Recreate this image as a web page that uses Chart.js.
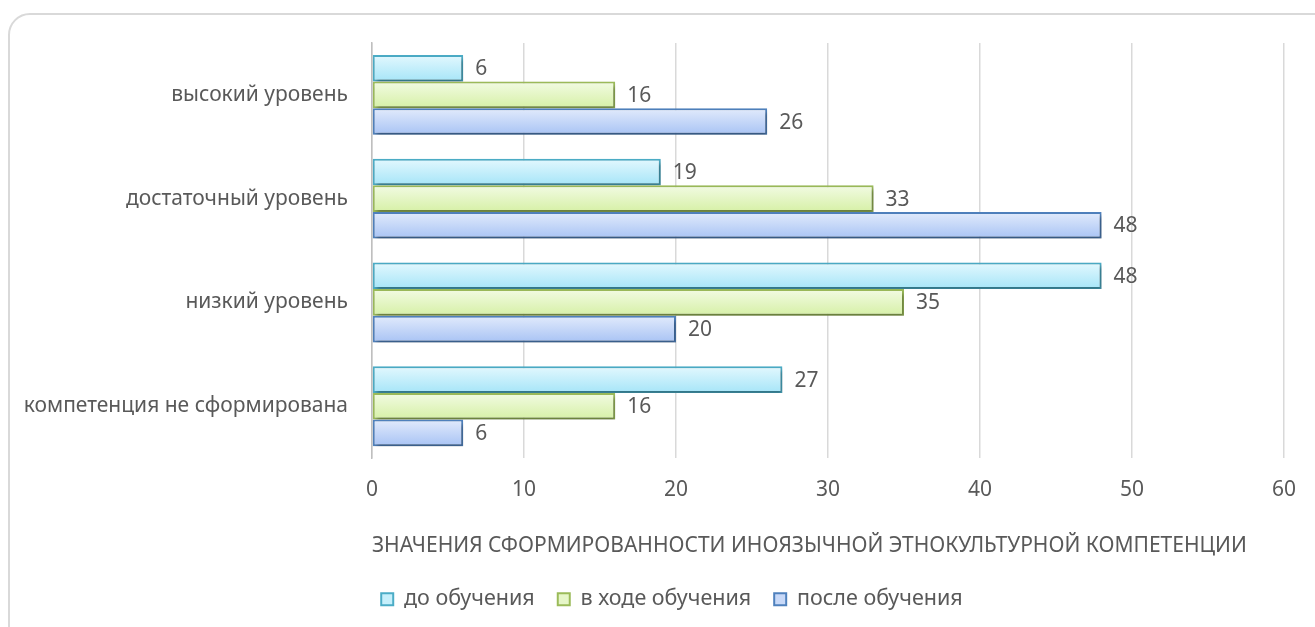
<!DOCTYPE html>
<html>
<head>
<meta charset="utf-8">
<script src="https://cdn.jsdelivr.net/npm/chart.js@4"></script>
<style>
  body { margin: 0; background: #fff; }
  #wrap { position: relative; width: 1315px; height: 627px; overflow: hidden; }
  #frame { position: absolute; left: 8px; top: 13px; width: 1330px; height: 640px;
           border: 2px solid #d9d9d9; border-radius: 22px; box-sizing: border-box; }
  canvas { position: absolute; left: 0; top: 0; }
</style>
</head>
<body>
<div id="wrap">
  <div id="frame"></div>
  <canvas id="chart" width="1315" height="627"></canvas>
</div>
<script>
// данные
const categories = ['высокий уровень', 'достаточный уровень', 'низкий уровень', 'компетенция не сформирована'];
const before = [6, 19, 48, 27];
const during = [16, 33, 35, 16];
const after = [26, 48, 20, 6];
const xTicks = [0, 10, 20, 30, 40, 50, 60];
const axisTitle = 'ЗНАЧЕНИЯ СФОРМИРОВАННОСТИ ИНОЯЗЫЧНОЙ ЭТНОКУЛЬТУРНОЙ КОМПЕТЕНЦИИ';

const FONT = "'Noto Sans', sans-serif";
const GRAY = '#595959';
const CAT_PCT = 0.77;

// градиент сверху вниз для каждого бара
function barGradient(top, bottom) {
  return ctx => {
    const chart = ctx.chart;
    const ys = chart.scales.y;
    if (!ys || ctx.dataIndex === undefined || !chart.chartArea) return bottom;
    const band = ys.height / categories.length;
    const th = band * CAT_PCT / 3;
    const c = ys.getPixelForValue(ctx.dataIndex) + (ctx.datasetIndex - 1) * th;
    const g = chart.ctx.createLinearGradient(0, c - th / 2, 0, c + th / 2);
    g.addColorStop(0, top);
    g.addColorStop(1, bottom);
    return g;
  };
}

// тень, подписи значений, сдвиг легенды
const barExtras = {
  id: 'barExtras',
  afterLayout(chart) {
    chart.legend.left += 30;
    chart.legend.right += 30;
  },
  beforeDatasetsDraw(chart) {
    const c = chart.ctx;
    c.save();
    c.shadowColor = 'rgba(0,0,0,0.35)';
    c.shadowBlur = 4;
    c.shadowOffsetX = 2;
    c.shadowOffsetY = 3;
  },
  afterDatasetsDraw(chart) {
    const c = chart.ctx;
    c.restore();
    c.save();
    c.font = '21px ' + FONT;
    c.fillStyle = GRAY;
    c.textAlign = 'left';
    c.textBaseline = 'middle';
    chart.data.datasets.forEach((ds, i) => {
      chart.getDatasetMeta(i).data.forEach((bar, j) => {
        c.fillText(ds.data[j], bar.x + 12, bar.y + 1);
      });
    });
    c.restore();
  }
};

new Chart(document.getElementById('chart'), {
  type: 'bar',
  data: {
    labels: categories,
    datasets: [
      { label: 'до обучения', data: before, borderColor: '#4bacc6',
        backgroundColor: barGradient('#e3f8fe', '#a6e5f8') },
      { label: 'в ходе обучения', data: during, borderColor: '#9bbb59',
        backgroundColor: barGradient('#f2fbe3', '#d6f0a6') },
      { label: 'после обучения', data: after, borderColor: '#4f81bd',
        backgroundColor: barGradient('#e2ebfc', '#a8c3f4') }
    ]
  },
  options: {
    indexAxis: 'y',
    responsive: false,
    animation: false,
    layout: { padding: { left: 0, top: 43, right: 31, bottom: 7 } },
    datasets: { bar: { borderWidth: 2, borderSkipped: false, barPercentage: 1, categoryPercentage: CAT_PCT } },
    scales: {
      x: {
        min: 0, max: 60,
        afterBuildTicks: s => { s.ticks = xTicks.map(v => ({ value: v })); },
        grid: { color: '#d9d9d9', lineWidth: 1.5, drawTicks: false },
        border: { display: false },
        ticks: { color: GRAY, font: { family: FONT, size: 21 }, padding: 19 },
        title: { display: true, text: axisTitle, color: GRAY, align: 'start',
                 font: { family: FONT, size: 21 }, padding: { top: 12, bottom: 7 } }
      },
      y: {
        afterFit: s => { s.width = 372; },
        grid: { display: false },
        border: { display: true, color: '#bfbfbf', width: 1.5 },
        ticks: { color: GRAY, font: { family: FONT, size: 21 }, padding: 16 }
      }
    },
    plugins: {
      legend: {
        position: 'bottom',
        labels: {
          color: GRAY, font: { family: FONT, size: 21.5 },
          boxWidth: 12, boxHeight: 12, padding: 23,
          generateLabels: chart => chart.data.datasets.map((ds, i) => ({
            text: ds.label, fillStyle: ['#c6effb', '#e6f6c8', '#c8d9f8'][i],
            strokeStyle: ds.borderColor, lineWidth: 2, datasetIndex: i, fontColor: GRAY
          }))
        }
      },
      tooltip: { enabled: false }
    }
  },
  plugins: [barExtras]
});
</script>
</body>
</html>
